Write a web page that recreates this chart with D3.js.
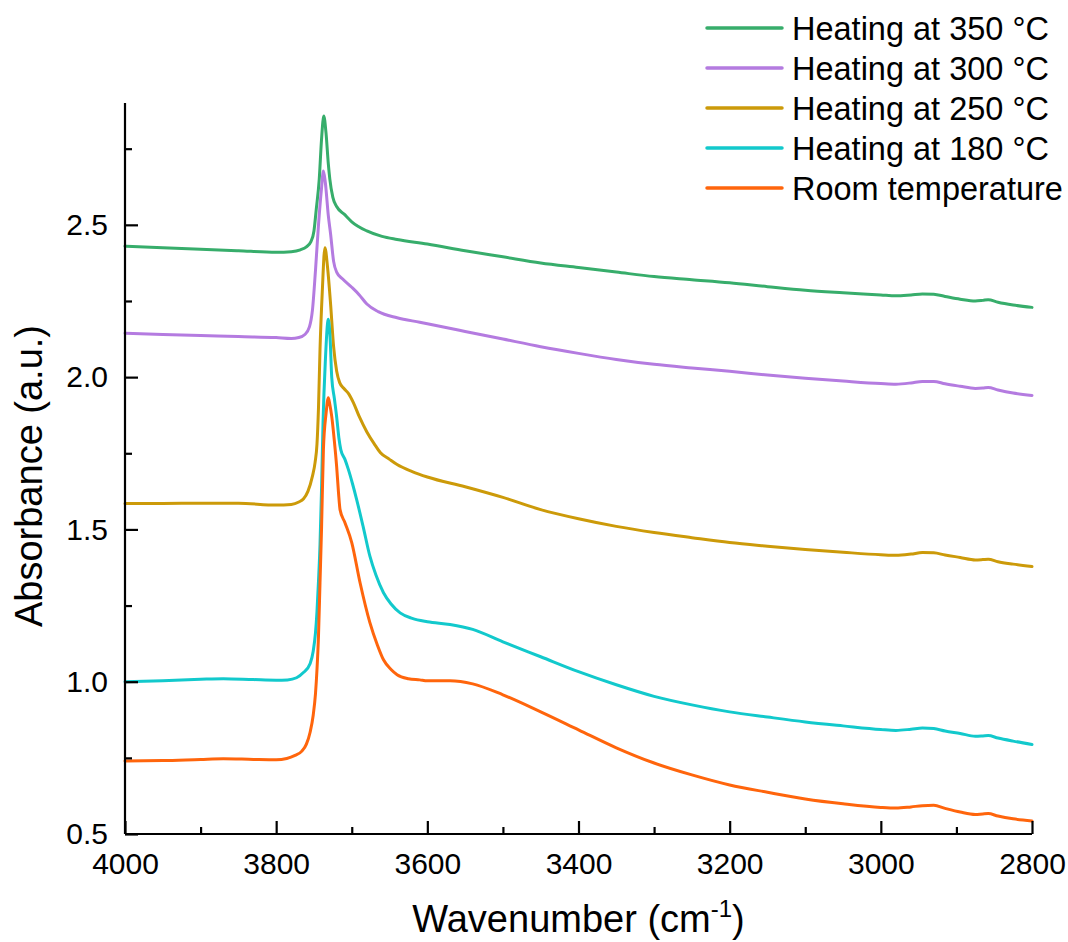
<!DOCTYPE html>
<html>
<head>
<meta charset="utf-8">
<script src="https://cdn.jsdelivr.net/npm/d3@7"></script>
<style>
  body { margin: 0; background: #fff; }
  svg { display: block; font-family: "Liberation Sans", Arial, sans-serif; }
</style>
</head>
<body>
<svg id="chart" width="1068" height="942"></svg>
<script>
// ---------- DATA ----------
const seriesNames = ["Heating at 350 °C", "Heating at 300 °C", "Heating at 250 °C", "Heating at 180 °C", "Room temperature"];
const seriesColors = ["#37AD6B", "#B47BE0", "#CC9A09", "#12C9CC", "#FF650C"];

const wn350 = [4000,3950,3900,3850,3800,3780,3768,3760,3754,3750,3747,3743,3740,3737,3734,3731,3729,3725,3720,3710,3700,3680,3660,3640,3600,3550,3500,3450,3400,3350,3300,3250,3200,3150,3100,3050,3000,2980,2960,2945,2930,2915,2895,2875,2865,2858,2845,2825,2800];
const abs350 = [2.430,2.425,2.420,2.415,2.410,2.412,2.418,2.428,2.445,2.48,2.55,2.65,2.78,2.857,2.80,2.70,2.65,2.59,2.56,2.535,2.51,2.48,2.462,2.452,2.437,2.415,2.395,2.375,2.36,2.345,2.33,2.32,2.31,2.297,2.285,2.277,2.27,2.267,2.27,2.273,2.272,2.265,2.256,2.25,2.252,2.254,2.246,2.237,2.229];

const wn300 = [4000,3950,3900,3850,3800,3780,3770,3762,3756,3752,3748,3744,3740,3737.5,3735,3731,3728,3724,3720,3712,3700,3690,3680,3665,3640,3610,3600,3550,3500,3450,3400,3350,3300,3250,3200,3150,3100,3050,3000,2980,2960,2945,2930,2915,2895,2875,2865,2858,2845,2825,2800];
const abs300 = [2.144,2.14,2.137,2.133,2.13,2.127,2.13,2.14,2.165,2.22,2.35,2.50,2.62,2.677,2.64,2.53,2.47,2.38,2.345,2.322,2.295,2.27,2.24,2.215,2.195,2.18,2.175,2.15,2.125,2.10,2.078,2.058,2.042,2.03,2.019,2.007,1.996,1.987,1.979,1.977,1.981,1.986,1.986,1.978,1.97,1.963,1.964,1.966,1.958,1.948,1.94];

const wn250 = [4000,3950,3900,3850,3800,3780,3770,3764,3758,3752,3748.5,3746,3744,3742,3739,3735.5,3732,3728,3724,3720,3716,3710,3704,3698,3690,3680,3670,3662,3650,3640,3620,3600,3550,3500,3450,3400,3350,3300,3250,3200,3150,3100,3050,3000,2980,2960,2945,2930,2915,2895,2875,2865,2858,2845,2825,2800];
const abs250 = [1.585,1.585,1.586,1.586,1.58,1.582,1.59,1.60,1.625,1.675,1.72,1.78,1.90,2.09,2.28,2.425,2.36,2.24,2.10,2.02,1.982,1.962,1.945,1.917,1.87,1.82,1.78,1.752,1.73,1.713,1.69,1.672,1.64,1.605,1.565,1.535,1.51,1.49,1.473,1.457,1.445,1.434,1.425,1.417,1.415,1.419,1.424,1.423,1.416,1.408,1.40,1.401,1.402,1.394,1.386,1.378];

const wn180 = [4000,3950,3900,3870,3830,3800,3785,3773,3764,3755,3751,3748,3746,3744,3742,3740,3738,3735,3731,3728.5,3726.5,3723,3720,3717,3714.5,3709,3704.5,3699,3693.5,3685,3676,3668,3658,3648,3636,3620,3600,3570,3540,3500,3450,3400,3350,3300,3250,3200,3150,3100,3050,3000,2980,2960,2945,2930,2915,2895,2875,2865,2858,2845,2825,2800];
const abs180 = [1.0,1.003,1.008,1.01,1.007,1.005,1.006,1.013,1.03,1.06,1.10,1.16,1.23,1.33,1.45,1.63,1.85,2.05,2.19,2.12,2.00,1.93,1.87,1.80,1.762,1.73,1.697,1.65,1.598,1.51,1.412,1.35,1.292,1.255,1.226,1.208,1.197,1.188,1.172,1.131,1.082,1.033,0.99,0.952,0.924,0.901,0.884,0.868,0.855,0.843,0.84,0.844,0.848,0.846,0.838,0.83,0.821,0.822,0.823,0.815,0.805,0.794];

const wnRT = [4000,3950,3900,3870,3830,3800,3786,3775,3766,3760,3755,3751,3748,3746,3744,3742,3740,3737.5,3734,3731,3729,3726.5,3723,3720,3717.5,3715.5,3709,3700,3689,3676,3666,3658,3648,3640,3625,3610,3600,3570,3540,3500,3450,3400,3350,3300,3250,3200,3150,3100,3050,3000,2980,2960,2945,2930,2915,2895,2875,2865,2858,2845,2825,2800];
const absRT = [0.74,0.741,0.745,0.747,0.745,0.744,0.748,0.758,0.772,0.795,0.835,0.89,0.96,1.04,1.15,1.325,1.50,1.762,1.88,1.932,1.91,1.871,1.79,1.707,1.62,1.565,1.522,1.457,1.325,1.194,1.12,1.072,1.04,1.023,1.01,1.006,1.003,1.003,0.993,0.957,0.901,0.842,0.783,0.733,0.694,0.661,0.637,0.615,0.599,0.587,0.585,0.589,0.593,0.594,0.584,0.572,0.564,0.566,0.567,0.559,0.55,0.543];

const xTicks = [4000, 3800, 3600, 3400, 3200, 3000, 2800];
const yTicks = [0.5, 1.0, 1.5, 2.0, 2.5];
const xTitle = "Wavenumber (cm";
const yTitle = "Absorbance (a.u.)";

// ---------- LAYOUT ----------
const svg = d3.select("#chart");
const plotL = 125, plotR = 1032, plotT = 103, plotB = 834;

const x = d3.scaleLinear().domain([4000, 2800]).range([plotL, plotR]);
const y = d3.scaleLinear().domain([0.5, 2.9]).range([plotB, plotT]);

const series = [
  {wn: wn350, a: abs350},
  {wn: wn300, a: abs300},
  {wn: wn250, a: abs250},
  {wn: wn180, a: abs180},
  {wn: wnRT, a: absRT}
];

const line = d3.line()
  .x(d => x(d[0]))
  .y(d => y(d[1]))
  .curve(d3.curveMonotoneX);

series.forEach((s, i) => {
  const pts = s.wn.map((w, j) => [w, s.a[j]]);
  svg.append("path")
    .datum(pts)
    .attr("d", line)
    .attr("fill", "none")
    .attr("stroke", seriesColors[i])
    .attr("stroke-width", 3)
    .attr("stroke-linejoin", "round")
    .attr("stroke-linecap", "round");
});

// ---------- AXES ----------
const xMinor = d3.range(3900, 2800, -200);
const yMinor = [0.75, 1.25, 1.75, 2.25, 2.75];

const xAxis = svg.append("g").attr("transform", `translate(0,${plotB})`)
  .call(d3.axisBottom(x).tickValues(xTicks).tickSize(-13).tickPadding(19).tickFormat(d3.format("d")));
xAxis.select(".domain").attr("d", `M${plotL},0H${plotR}`);
xAxis.selectAll(".tick text").attr("font-size", 30).attr("font-family", "Liberation Sans, Arial, sans-serif").attr("fill", "#000").attr("dy", "0.71em");
const xm = svg.append("g").attr("transform", `translate(0,${plotB})`)
  .call(d3.axisBottom(x).tickValues(xMinor).tickSize(-7).tickFormat(""));
xm.select(".domain").remove();

const yAxis = svg.append("g").attr("transform", `translate(${plotL},0)`)
  .call(d3.axisLeft(y).tickValues(yTicks).tickSize(-13).tickPadding(17).tickFormat(d3.format(".1f")));
yAxis.select(".domain").attr("d", `M0,${plotT}V${plotB}`);
yAxis.selectAll(".tick text").attr("font-size", 30).attr("font-family", "Liberation Sans, Arial, sans-serif").attr("fill", "#000");
const ym = svg.append("g").attr("transform", `translate(${plotL},0)`)
  .call(d3.axisLeft(y).tickValues(yMinor).tickSize(-7).tickFormat(""));
ym.select(".domain").remove();

svg.selectAll(".domain").attr("stroke", "#000").attr("stroke-width", 2.2);
svg.selectAll(".tick line").attr("stroke", "#000").attr("stroke-width", 2.2);

// Axis titles
const xt = svg.append("text")
  .attr("x", (plotL + plotR) / 2)
  .attr("y", 932)
  .attr("text-anchor", "middle")
  .attr("font-size", 38)
  .attr("fill", "#000");
xt.append("tspan").text(xTitle);
xt.append("tspan").text("-1").attr("font-size", 24).attr("dy", -15);
xt.append("tspan").text(")").attr("dy", 15);

svg.append("text")
  .attr("transform", "translate(42,476) rotate(-90)")
  .attr("text-anchor", "middle")
  .attr("font-size", 38)
  .attr("fill", "#000")
  .text(yTitle);

// ---------- LEGEND ----------
const legend = svg.append("g");
seriesNames.forEach((name, i) => {
  const cy = 28 + i * 40;
  legend.append("line")
    .attr("x1", 707).attr("x2", 782)
    .attr("y1", cy).attr("y2", cy)
    .attr("stroke", seriesColors[i])
    .attr("stroke-width", 3.5)
    .attr("stroke-linecap", "round");
  legend.append("text")
    .attr("x", 792).attr("y", cy)
    .attr("dy", "0.36em")
    .attr("font-size", 32.5)
    .attr("fill", "#000")
    .text(name);
});
</script>
</body>
</html>
